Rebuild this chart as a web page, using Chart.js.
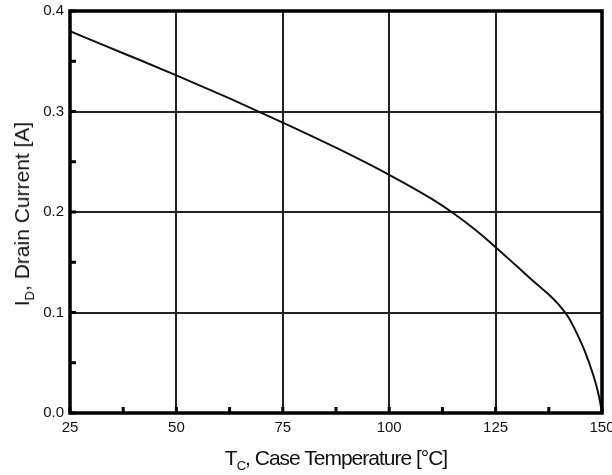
<!DOCTYPE html>
<html>
<head>
<meta charset="utf-8">
<script src="https://cdn.jsdelivr.net/npm/chart.js@4.4.1/dist/chart.umd.min.js"></script>
<style>
  html, body { margin: 0; padding: 0; background: #fff; }
  #wrap { position: relative; width: 612px; height: 475px; }
  .axtitle {
    position: absolute;
    font-family: "Liberation Sans", Arial, sans-serif;
    font-size: 21px;
    line-height: 24px;
    color: #111;
    white-space: nowrap;
  }
  .axtitle sub { font-size: 13px; vertical-align: -5px; line-height: 0; }
  #xtitle { left: 336px; top: 446px; transform: translateX(-50%); letter-spacing: -1px; }
  #ytitle { left: 22px; top: 214px; transform: translate(-50%, -50%) rotate(-90deg); }
</style>
</head>
<body>
<div id="wrap">
  <canvas id="chart" width="612" height="475"></canvas>
  <div class="axtitle" id="xtitle">T<sub>C</sub>, Case Temperature [&deg;C]</div>
  <div class="axtitle" id="ytitle">I<sub>D</sub>, Drain Current [A]</div>
</div>
<script>
// case temperature (°C) and drain current (A)
const temps = [25, 37.5, 50, 62.5, 75, 87.5, 100, 110, 115, 120, 125, 130, 135, 138, 140, 142, 144, 146, 148, 149, 149.6, 150];
const current = [0.380, 0.358, 0.336, 0.313, 0.289, 0.264, 0.237, 0.213, 0.199, 0.183, 0.165, 0.146, 0.127, 0.116, 0.107, 0.096, 0.080, 0.061, 0.037, 0.022, 0.010, 0];

const xTicks = [25, 50, 75, 100, 125, 150];
const yTicks = [0.0, 0.1, 0.2, 0.3, 0.4];
const xMinor = [37.5, 62.5, 87.5, 112.5, 137.5];
const yMinor = [0.05, 0.15, 0.25, 0.35];

const tickFont = { family: "'Liberation Sans', Arial, sans-serif", size: 15 };

// frame + inward ticks
const framePlugin = {
  id: "frame",
  afterDraw(c) {
    const ctx = c.ctx, a = c.chartArea;
    const xs = c.scales.x, ys = c.scales.y;
    ctx.save();
    ctx.strokeStyle = "#000";
    ctx.lineWidth = 3;
    ctx.lineCap = "butt";
    xMinor.concat(xTicks).forEach(v => {
      const px = xs.getPixelForValue(v);
      ctx.beginPath(); ctx.moveTo(px, a.bottom); ctx.lineTo(px, a.bottom - 6); ctx.stroke();
    });
    yMinor.concat(yTicks).forEach(v => {
      const py = ys.getPixelForValue(v);
      ctx.beginPath(); ctx.moveTo(a.left, py); ctx.lineTo(a.left + 6, py); ctx.stroke();
    });
    ctx.lineWidth = 3.5;
    ctx.strokeRect(a.left, a.top, a.right - a.left, a.bottom - a.top);
    ctx.restore();
  }
};

new Chart(document.getElementById("chart"), {
  type: "line",
  data: {
    datasets: [{
      data: temps.map((t, i) => ({ x: t, y: current[i] })),
      borderColor: "#111",
      borderWidth: 2,
      pointRadius: 0,
      fill: false,
      cubicInterpolationMode: "monotone"
    }]
  },
  options: {
    responsive: false,
    animation: false,
    layout: { padding: { top: 11, right: 10, left: 0, bottom: 0 } },
    plugins: { legend: { display: false }, tooltip: { enabled: false } },
    scales: {
      x: {
        type: "linear",
        min: 25, max: 150,
        afterBuildTicks: s => { s.ticks = xTicks.map(v => ({ value: v })); },
        ticks: { color: "#111", font: tickFont, padding: 6, maxRotation: 0 },
        grid: { color: "#222", lineWidth: 2, drawTicks: false },
        border: { display: false },
        afterFit: s => { s.height = 62; s.paddingLeft = 0; s.paddingRight = 0; }
      },
      y: {
        min: 0, max: 0.4,
        afterBuildTicks: s => { s.ticks = yTicks.map(v => ({ value: v })); },
        ticks: { color: "#111", font: tickFont, padding: 6, callback: v => v.toFixed(1) },
        grid: { color: "#222", lineWidth: 2, drawTicks: false },
        border: { display: false },
        afterFit: s => { s.width = 70; s.paddingTop = 0; s.paddingBottom = 0; }
      }
    }
  },
  plugins: [framePlugin]
});
</script>
</body>
</html>
